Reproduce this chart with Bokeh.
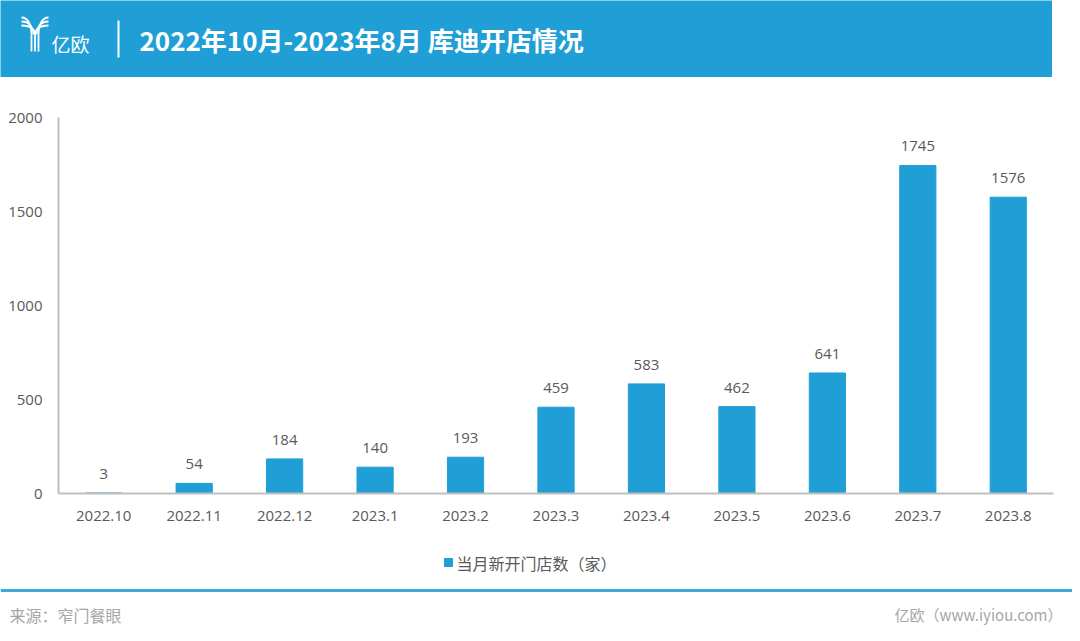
from bokeh.plotting import figure
from bokeh.models import Range1d, FactorRange
from bokeh.core.properties import value
from bokeh.embed import file_html
from bokeh.resources import INLINE

# ---- data ----
months = ["2022.10", "2022.11", "2022.12", "2023.1", "2023.2", "2023.3",
          "2023.4", "2023.5", "2023.6", "2023.7", "2023.8"]
stores = [3, 54, 184, 140, 193, 459, 583, 462, 641, 1745, 1576]
y_ticks = [0, 500, 1000, 1500, 2000]
title_text = "2022年10月-2023年8月 库迪开店情况"
logo_text = "亿欧"
legend_label = "当月新开门店数（家）"
source_text = "来源：窄门餐眼"
brand_text = "亿欧（www.iyiou.com）"

BLUE = "#1f9fd5"
GRAY_TXT = "#595959"
CJK = "Noto Sans CJK SC"
NUM = "Open Sans"
OX, OY = 0, 0          # page offset of the first root
HDR_B = 77             # header bottom (page y)
MAIN_B = 540           # main chart bottom (page y)
PAGE_W, PAGE_B = 1072, 641


def deco_fig(x0, x1, y0, y1):
    f = figure(width=x1 - x0, height=y1 - y0, x_range=Range1d(x0, x1), y_range=Range1d(y1, y0),
               output_backend="svg", toolbar_location=None, min_border=0,
               x_axis_location=None, y_axis_location=None, outline_line_color=None)
    f.grid.visible = False
    return f


# ---- header ----
hdr = deco_fig(OX, 1052, OY, HDR_B)
hdr.background_fill_color = BLUE
hdr.border_fill_color = BLUE
# stylised "Y" logo
stem_x = [31, 34.5, 38]
l_end = [31, 33, 34.5]
r_end = [38, 36, 34.5]
for i in range(3):
    ys = 17 + 4 * i
    hdr.bezier(x0=[21], y0=[ys], x1=[l_end[i]], y1=[34], cx0=[l_end[i] - 3], cy0=[ys],
               cx1=[l_end[i]], cy1=[26 + 2 * i], line_color="white", line_width=1.8)
    hdr.bezier(x0=[48], y0=[ys], x1=[r_end[i]], y1=[34], cx0=[r_end[i] + 3], cy0=[ys],
               cx1=[r_end[i]], cy1=[26 + 2 * i], line_color="white", line_width=1.8)
hdr.segment(x0=stem_x, y0=[34] * 3, x1=stem_x, y1=[51] * 3, line_color="white", line_width=1.8)
hdr.text(x=[51], y=[43], text=[logo_text], text_font=value(CJK), text_font_size="19px",
         text_color="white", text_baseline="middle", text_align="left")
hdr.segment(x0=[118], y0=[20], x1=[118], y1=[57], line_color="white", line_width=2)
hdr.text(x=[139], y=[39], text=[title_text], text_font=value(CJK), text_font_style="bold",
         text_font_size="26px", text_color="white", text_baseline="middle", text_align="left")

# ---- main chart ----
FL, FR, FT, FB = 58, 1053, 117, 493
p = figure(width=PAGE_W - OX, height=MAIN_B - HDR_B, x_range=FactorRange(*months),
           y_range=Range1d(0, 2000), output_backend="svg", toolbar_location=None,
           min_border_left=FL - OX, min_border_right=PAGE_W - FR,
           min_border_top=FT - HDR_B, min_border_bottom=MAIN_B - FB,
           outline_line_color=None)
p.grid.visible = False
p.vbar(x=months, top=stores, width=0.4, color=BLUE)
p.text(x=months, y=stores, text=[str(v) for v in stores], text_align="center",
       text_baseline="bottom", y_offset=-14, text_font=value(NUM), text_font_size="15px",
       text_color=GRAY_TXT)
p.yaxis.ticker = y_ticks
for ax in (p.xaxis, p.yaxis):
    ax.major_tick_line_color = None
    ax.minor_tick_line_color = None
    ax.major_tick_out = 0
    ax.major_tick_in = 0
    ax.minor_tick_out = 0
    ax.axis_line_color = "#bfbfbf"
    ax.axis_line_width = 2
    ax.major_label_text_font = NUM
    ax.major_label_text_font_size = "15px"
    ax.major_label_text_color = GRAY_TXT
p.yaxis.major_label_standoff = 16
p.xaxis.major_label_standoff = 17

# ---- legend + footer ----
bot = deco_fig(OX, PAGE_W, MAIN_B, PAGE_B)
bot.rect(x=[448], y=[562], width=8, height=8, color=BLUE)
bot.text(x=[456], y=[562], text=[legend_label], text_font=value(CJK), text_font_size="16px",
         text_color=GRAY_TXT, text_baseline="middle", text_align="left")
bot.segment(x0=[OX], y0=[590], x1=[PAGE_W], y1=[590], line_color="#3da8da", line_width=3)
bot.text(x=[9], y=[614], text=[source_text], text_font=value(CJK), text_font_size="16px",
         text_color="#a6a6a6", text_baseline="middle", text_align="left")
bot.text(x=[1062], y=[614], text=[brand_text], text_font=value(CJK), text_font_size="15px",
         text_color="#a6a6a6", text_baseline="middle", text_align="right")

open("out.html", "w").write(file_html([hdr, p, bot], INLINE))
